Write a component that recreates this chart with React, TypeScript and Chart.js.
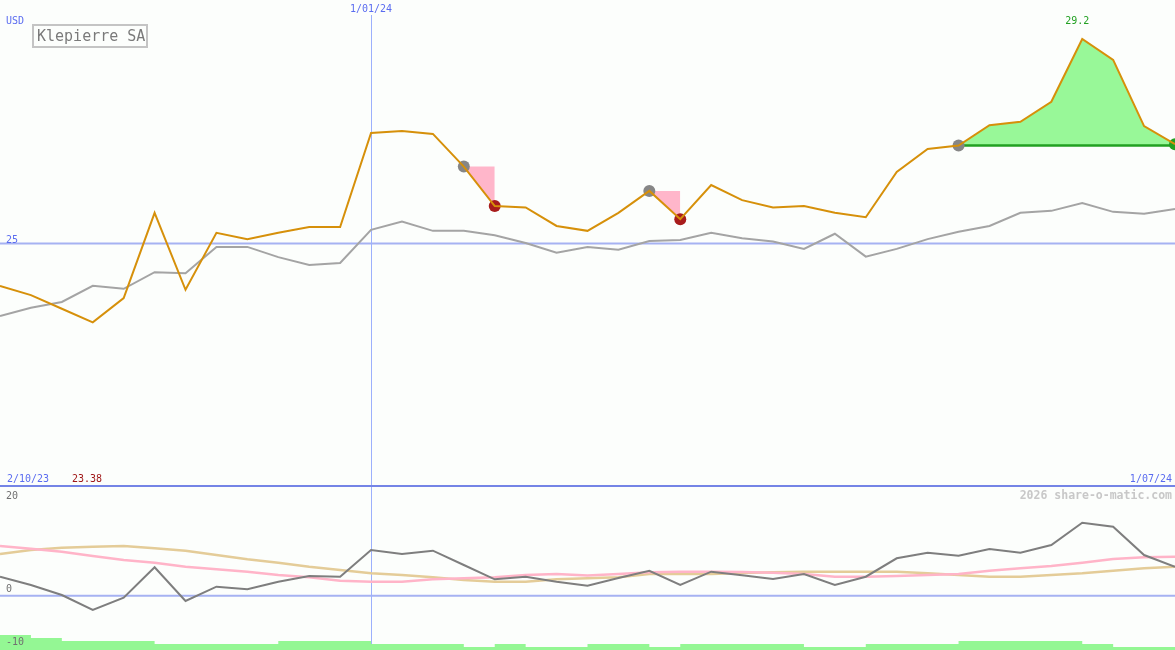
import { useEffect, useRef } from "react"
import { Chart, registerables } from "chart.js"

Chart.register(...registerables)

// weekly closes, 9 Oct 2023 .. 1 Jul 2024
const weeks = [
  "9/10/23", "16/10/23", "23/10/23", "30/10/23", "6/11/23", "13/11/23", "20/11/23", "27/11/23",
  "4/12/23", "11/12/23", "18/12/23", "25/12/23", "1/01/24", "8/01/24", "15/01/24", "22/01/24",
  "29/01/24", "5/02/24", "12/02/24", "19/02/24", "26/02/24", "4/03/24", "11/03/24", "18/03/24",
  "25/03/24", "1/04/24", "8/04/24", "15/04/24", "22/04/24", "29/04/24", "6/05/24", "13/05/24",
  "20/05/24", "27/05/24", "3/06/24", "10/06/24", "17/06/24", "24/06/24", "1/07/24",
]
const rangeStart = "2/10/23"
const yearMark = "1/01/24"
const refPrice = 25

const price = [
  24.13, 23.94, 23.66, 23.38, 23.88, 25.63, 24.05, 25.22, 25.09, 25.22, 25.34, 25.34, 27.27,
  27.31, 27.25, 26.58, 25.77, 25.74, 25.36, 25.26, 25.63, 26.08, 25.5, 26.2, 25.89, 25.74,
  25.77, 25.63, 25.54, 26.47, 26.94, 27.01, 27.43, 27.5, 27.91, 29.2, 28.77, 27.41, 27.04,
]
const average = [
  23.51, 23.68, 23.8, 24.13, 24.07, 24.41, 24.39, 24.93, 24.93, 24.72, 24.56, 24.6, 25.28,
  25.45, 25.26, 25.26, 25.17, 25.01, 24.81, 24.93, 24.87, 25.05, 25.07, 25.22, 25.11, 25.04,
  24.89, 25.2, 24.73, 24.89, 25.09, 25.24, 25.36, 25.63, 25.67, 25.83, 25.65, 25.61, 25.71,
]
const momentum = [
  3.49, 1.96, 0.12, -2.64, -0.38, 5.22, -0.98, 1.65, 1.17, 2.57, 3.62, 3.49, 8.4, 7.67, 8.28,
  5.64, 3.01, 3.49, 2.57, 1.83, 3.25, 4.59, 1.96, 4.41, 3.75, 3.07, 3.99, 1.96, 3.49, 6.88,
  7.91, 7.36, 8.59, 7.91, 9.32, 13.43, 12.69, 7.48, 5.33,
]
const fastSignal = [
  9.14, 8.64, 8.09, 7.3, 6.56, 6.07, 5.33, 4.85, 4.41, 3.8, 3.38, 2.75, 2.57, 2.57, 3.01, 3.2,
  3.38, 3.8, 3.99, 3.7, 3.99, 4.3, 4.41, 4.41, 4.35, 4.23, 3.99, 3.49, 3.49, 3.62, 3.8, 3.99,
  4.59, 5.04, 5.46, 6.07, 6.75, 7.06, 7.17,
]
const slowSignal = [
  7.67, 8.4, 8.83, 9.01, 9.14, 8.72, 8.28, 7.48, 6.69, 6.07, 5.33, 4.72, 4.12, 3.8, 3.38, 2.88,
  2.57, 2.57, 3.01, 3.2, 3.38, 3.99, 3.99, 3.99, 4.17, 4.3, 4.41, 4.41, 4.41, 4.41, 4.12, 3.8,
  3.49, 3.49, 3.8, 4.12, 4.59, 5.04, 5.33,
]
const volume = [
  5, 4, 3, 3, 3, 2, 2, 2, 2, 3, 3, 3, 2, 2, 2, 1, 2, 1, 1, 2, 2, 1, 2, 2, 2, 2, 1, 1, 2, 2, 2,
  3, 3, 3, 3, 2, 1, 1, 1,
]
const trades = [
  { from: 15, to: 16, open: false },
  { from: 21, to: 22, open: false },
  { from: 31, to: 38, open: true },
]

const FONT = "'DejaVu Sans Mono', monospace"
const BLUE_TEXT = "#5a6cf0"
const REF_LINE = "#a6b2f2"
const DATE_LINE = "#9cb0fc"

const topOverlay = {
  id: "topOverlay",
  beforeDatasetsDraw(chart: any) {
    const { ctx, chartArea, scales } = chart
    const yRef = scales.y.getPixelForValue(refPrice)
    const xv = Math.round(scales.x.getPixelForValue(weeks.indexOf(yearMark))) + 0.5
    ctx.save()
    ctx.strokeStyle = REF_LINE
    ctx.lineWidth = 2
    ctx.beginPath()
    ctx.moveTo(chartArea.left, yRef)
    ctx.lineTo(chartArea.right, yRef)
    ctx.stroke()
    ctx.strokeStyle = DATE_LINE
    ctx.lineWidth = 1
    ctx.beginPath()
    ctx.moveTo(xv, 15)
    ctx.lineTo(xv, chartArea.bottom)
    ctx.stroke()
    ctx.restore()
  },
  afterDraw(chart: any) {
    const { ctx, chartArea, scales } = chart
    const yRef = scales.y.getPixelForValue(refPrice)
    ctx.save()
    ctx.font = `10px ${FONT}`
    ctx.fillStyle = BLUE_TEXT
    ctx.textBaseline = "middle"
    ctx.textAlign = "center"
    ctx.fillText(yearMark, scales.x.getPixelForValue(weeks.indexOf(yearMark)), 9)
    ctx.textAlign = "left"
    ctx.fillText("USD", 6, 21)
    ctx.textBaseline = "alphabetic"
    ctx.fillText(String(refPrice), 6, yRef - 1)

    // high / low
    const hi = Math.max(...price)
    const lo = Math.min(...price)
    const hiIdx = price.indexOf(hi)
    ctx.textBaseline = "middle"
    ctx.textAlign = "center"
    ctx.fillStyle = "#22a022"
    ctx.fillText(hi.toFixed(1), scales.x.getPixelForValue(hiIdx) - 5, 21)

    // range labels along the bottom
    const yb = chartArea.bottom - 8
    ctx.textAlign = "left"
    ctx.fillStyle = BLUE_TEXT
    ctx.fillText(rangeStart, 7, yb)
    ctx.fillStyle = "#a01818"
    ctx.fillText(lo.toFixed(2), 72, yb)
    ctx.textAlign = "right"
    ctx.fillStyle = BLUE_TEXT
    ctx.fillText(weeks[weeks.length - 1], 1172, yb)

    // separator
    ctx.strokeStyle = "#7484e6"
    ctx.lineWidth = 2
    ctx.beginPath()
    ctx.moveTo(chartArea.left, chartArea.bottom - 1)
    ctx.lineTo(chartArea.right, chartArea.bottom - 1)
    ctx.stroke()

    // title box
    ctx.strokeStyle = "#c4c4c4"
    ctx.strokeRect(33, 25, 114, 22)
    ctx.font = `15px ${FONT}`
    ctx.fillStyle = "#7a7a7a"
    ctx.textAlign = "left"
    ctx.fillText("Klepierre SA", 37, 37)
    ctx.restore()
  },
}

const bottomOverlay = {
  id: "bottomOverlay",
  beforeDatasetsDraw(chart: any) {
    const { ctx, chartArea, scales } = chart
    const y0 = scales.y.getPixelForValue(0)
    const xv = Math.round(scales.x.getPixelForValue(weeks.indexOf(yearMark))) + 0.5
    ctx.save()
    ctx.strokeStyle = REF_LINE
    ctx.lineWidth = 2
    ctx.beginPath()
    ctx.moveTo(chartArea.left, y0)
    ctx.lineTo(chartArea.right, y0)
    ctx.stroke()
    ctx.strokeStyle = DATE_LINE
    ctx.lineWidth = 1
    ctx.beginPath()
    ctx.moveTo(xv, chartArea.top)
    ctx.lineTo(xv, chartArea.bottom - 6)
    ctx.stroke()
    ctx.restore()
  },
  afterDraw(chart: any) {
    const { ctx, scales } = chart
    ctx.save()
    ctx.font = `10px ${FONT}`
    ctx.fillStyle = "#707070"
    ctx.textBaseline = "middle"
    ctx.textAlign = "left"
    ctx.fillText("20", 6, 9.5)
    ctx.fillText("0", 6, scales.y.getPixelForValue(0) - 6.5)
    ctx.fillText("-10", 6, 155)
    ctx.font = `bold 11.5px ${FONT}`
    ctx.fillStyle = "#c8c8c8"
    ctx.textAlign = "right"
    ctx.fillText("2026 share-o-matic.com", 1172, 9)
    ctx.restore()
  },
}

const only = (idx: number[]) => weeks.map((_, i) => (idx.includes(i) ? price[i] : null))

function marker(data: (number | null)[], color: string) {
  return {
    data,
    showLine: false,
    pointRadius: 6,
    pointHoverRadius: 6,
    pointBorderWidth: 0,
    pointBackgroundColor: color,
    fill: false,
  }
}

export default function App() {
  const topRef = useRef<HTMLCanvasElement | null>(null)
  const bottomRef = useRef<HTMLCanvasElement | null>(null)

  useEffect(() => {
    if (!topRef.current || !bottomRef.current) return

    const tradeFills = trades.map((t) => {
      const level = price[t.from]
      const gain = price[t.to] >= level
      return {
        data: weeks.map((_, i) => (i >= t.from && i <= t.to ? level : null)),
        borderColor: t.open ? "#22a022" : "rgba(0,0,0,0)",
        borderWidth: t.open ? 2.5 : 0,
        backgroundColor: gain ? "#98f898" : "#ffb6ca",
        pointRadius: 0,
        fill: 0,
      }
    })

    const top = new Chart(topRef.current, {
      type: "line",
      data: {
        labels: weeks,
        datasets: [
          { data: price, borderColor: "#d6900a", borderWidth: 2, pointRadius: 0, fill: false },
          marker(only(trades.map((t) => t.from)), "#868686"),
          marker(only(trades.filter((t) => !t.open).map((t) => t.to)), "#a81c1c"),
          marker(only(trades.filter((t) => t.open).map((t) => t.to)), "#22a022"),
          ...tradeFills,
          { data: average, borderColor: "#a4a4a4", borderWidth: 2, pointRadius: 0, fill: false },
        ] as any,
      },
      options: {
        animation: false,
        responsive: false,
        events: [],
        layout: { padding: 0, autoPadding: false },
        scales: {
          x: { type: "category", offset: false, display: false },
          y: { min: 20, max: 30, display: false },
        },
        plugins: { legend: { display: false }, tooltip: { enabled: false } },
      },
      plugins: [topOverlay],
    })

    const bottom = new Chart(bottomRef.current, {
      type: "line",
      data: {
        labels: weeks,
        datasets: [
          { data: momentum, borderColor: "#7e7e7e", borderWidth: 2, pointRadius: 0, fill: false },
          { data: fastSignal, borderColor: "#ffb4c8", borderWidth: 2.5, pointRadius: 0, fill: false },
          { data: slowSignal, borderColor: "#e4cc98", borderWidth: 2.5, pointRadius: 0, fill: false },
          {
            data: volume,
            yAxisID: "vol",
            stepped: "before",
            borderWidth: 0,
            pointRadius: 0,
            backgroundColor: "#94f794",
            fill: "start",
          },
        ] as any,
      },
      options: {
        animation: false,
        responsive: false,
        events: [],
        layout: { padding: 0, autoPadding: false },
        scales: {
          x: { type: "category", offset: false, display: false },
          y: { min: -10, max: 20, display: false },
          vol: { min: 0, max: 54, display: false },
        },
        plugins: { legend: { display: false }, tooltip: { enabled: false } },
      },
      plugins: [bottomOverlay],
    })

    return () => {
      top.destroy()
      bottom.destroy()
    }
  }, [])

  return (
    <div
      style={{
        position: "fixed",
        left: 0,
        top: 0,
        width: 1175,
        height: 650,
        background: "#fcfefc",
      }}
    >
      <canvas ref={topRef} width={1175} height={487} style={{ display: "block" }} />
      <canvas ref={bottomRef} width={1175} height={163} style={{ display: "block" }} />
    </div>
  )
}
